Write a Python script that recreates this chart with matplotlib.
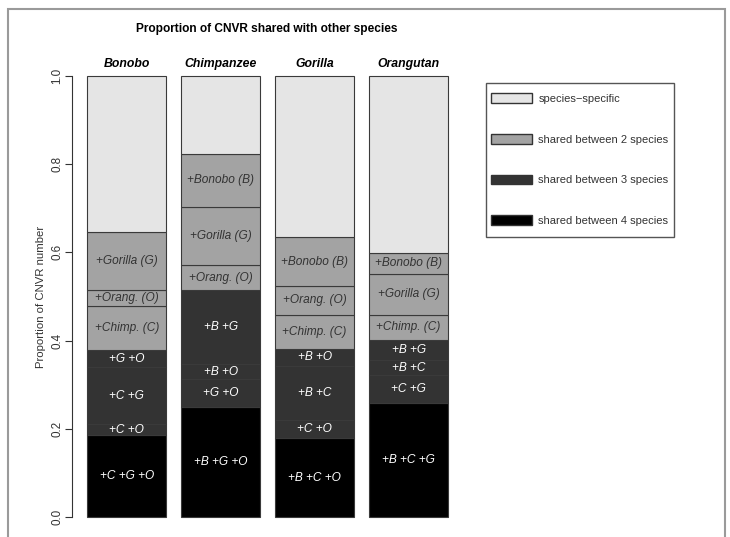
import numpy as np
import matplotlib
matplotlib.use('Agg')
import matplotlib.pyplot as plt
from matplotlib.patches import Patch, Rectangle

plt.rcParams['font.family'] = ['Liberation Sans', 'DejaVu Sans']

species = ['Bonobo', 'Chimpanzee', 'Gorilla', 'Orangutan']

# segments listed bottom -> top; share = number of species sharing the CNVR
bonobo_labels = ['+C +G +O', '+C +O', '+C +G', '+G +O',
                 '+Chimp. (C)', '+Orang. (O)', '+Gorilla (G)', '']
bonobo_vals = [0.185, 0.025, 0.130, 0.038, 0.101, 0.036, 0.132, 0.353]
bonobo_share = [4, 3, 3, 3, 2, 2, 2, 1]

chimp_labels = ['+B +G +O', '+G +O', '+B +O', '+B +G',
                '+Orang. (O)', '+Gorilla (G)', '+Bonobo (B)', '']
chimp_vals = [0.250, 0.062, 0.034, 0.168, 0.057, 0.132, 0.121, 0.176]
chimp_share = [4, 3, 3, 3, 2, 2, 2, 1]

gorilla_labels = ['+B +C +O', '+C +O', '+B +C', '+B +O',
                  '+Chimp. (C)', '+Orang. (O)', '+Bonobo (B)', '']
gorilla_vals = [0.179, 0.040, 0.123, 0.040, 0.077, 0.064, 0.112, 0.365]
gorilla_share = [4, 3, 3, 3, 2, 2, 2, 1]

orang_labels = ['+B +C +G', '+C +G', '+B +C', '+B +G',
                '+Chimp. (C)', '+Gorilla (G)', '+Bonobo (B)', '']
orang_vals = [0.259, 0.062, 0.034, 0.047, 0.057, 0.093, 0.047, 0.401]
orang_share = [4, 3, 3, 3, 2, 2, 2, 1]

legend_labels = ['species\u2212specific', 'shared between 2 species',
                 'shared between 3 species', 'shared between 4 species']

fill = {1: '#e5e5e5', 2: '#a3a3a3', 3: '#333333', 4: '#000000'}
txtcol = {1: '#333333', 2: '#333333', 3: 'white', 4: 'white'}

W, H = 730, 537
fig = plt.figure(figsize=(W / 100, H / 100), dpi=100)
ax = fig.add_axes([72 / W, (H - 517) / H, (463 - 72) / W, (517 - 76) / H])

bars = [(bonobo_labels, bonobo_vals, bonobo_share),
        (chimp_labels, chimp_vals, chimp_share),
        (gorilla_labels, gorilla_vals, gorilla_share),
        (orang_labels, orang_vals, orang_share)]

width = 0.84
for i, (labs, vals, share) in enumerate(bars):
    bottom = 0.0
    for lab, v, s in zip(labs, vals, share):
        ax.bar(i, v, width, bottom=bottom, color=fill[s], edgecolor='#3a3a3a',
               linewidth=0.8, clip_on=False)
        if lab:
            ax.text(i, bottom + v / 2, lab, ha='center', va='center',
                    fontsize=8.6, style='italic', color=txtcol[s])
        bottom += v
    ax.text(i, 1.013, species[i], ha='center', va='bottom', fontsize=8.8,
            fontweight='bold', style='italic')

ax.set_xlim(-0.582, 3.578)
ax.set_ylim(0, 1)
for side in ['top', 'right', 'bottom']:
    ax.spines[side].set_visible(False)
ax.spines['left'].set_color('#333333')
ax.set_xticks([])
ax.set_yticks(np.arange(0, 1.01, 0.2))
ax.set_yticklabels(['0.0', '0.2', '0.4', '0.6', '0.8', '1.0'], rotation=90,
                   va='center', fontsize=8.4, color='#333333')
ax.tick_params(axis='y', length=5, width=0.8, color='#333333', pad=1)
ax.set_ylabel('Proportion of CNVR number', fontsize=8.2, color='#333333', labelpad=4)

fig.text(267 / W, 1 - 29 / H, 'Proportion of CNVR shared with other species',
         ha='center', va='center', fontsize=8.6, fontweight='bold')

handles = [Patch(facecolor=fill[k], edgecolor='#333333', linewidth=1)
           for k in (1, 2, 3, 4)]
leg = fig.legend(handles, legend_labels, loc='upper left',
                 bbox_to_anchor=(490.5 / W, 1 - 93 / H), fontsize=8,
                 handlelength=3.7, handleheight=1.0, labelspacing=2.7,
                 handletextpad=0.6, borderpad=0, borderaxespad=0,
                 frameon=False)
for t in leg.get_texts():
    t.set_color('#333333')

# legend box
fig.add_artist(Rectangle((486 / W, 1 - 237 / H), (674 - 486) / W, (237 - 83) / H,
                         transform=fig.transFigure, fill=False,
                         edgecolor='#555555', linewidth=1.0))

# grey frame around the whole figure
fig.add_artist(Rectangle((8 / W, -0.1), (725 - 8) / W, 1.1 - 9 / H,
                         transform=fig.transFigure, fill=False,
                         edgecolor='#9a9a9a', linewidth=1.5))

fig.savefig('out.png', dpi=100)
